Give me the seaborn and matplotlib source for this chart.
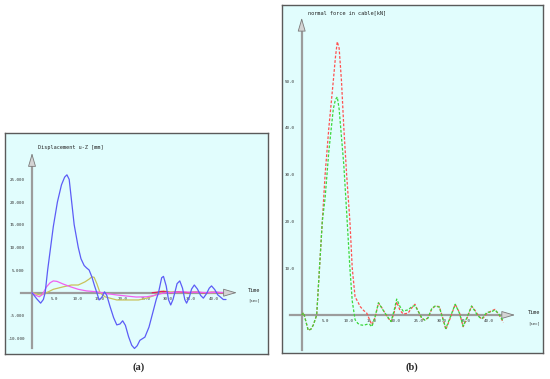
import matplotlib

matplotlib.use("Agg")
import matplotlib.pyplot as plt
import seaborn as sns

# ---- panel (a): displacement u-Z [mm] ----
a_blue_t = [0, 1.0, 1.9, 2.5, 2.9, 3.45, 4.1, 4.7, 5.6, 6.5, 7.2, 7.7, 8.2, 8.75,
            9.3, 10.2, 10.8, 11.5, 12.0, 12.6, 13.2, 13.8, 14.3, 14.8, 15.4, 16.0,
            16.5, 17.2, 18.0, 18.7, 19.4, 20.0, 20.6, 21.3, 22.0, 22.6, 23.2, 23.8,
            24.9, 25.8, 26.8, 27.4, 27.9, 28.6, 29.0, 29.6, 30.1, 30.6, 31.1, 31.5,
            32.0, 32.6, 33.2, 33.7, 34.1, 34.7, 35.2, 35.8, 36.5, 37.2, 37.8, 38.5,
            39.1, 39.6, 40.3, 41.0, 41.5, 42.2, 42.8]
a_blue_v = [0, -1.3, -2.3, -1.5, 0, 5.0, 10.0, 14.6, 20.0, 23.8, 25.5, 26.0, 25.0, 20.0,
            15.0, 10.0, 7.5, 6.0, 5.5, 5.0, 3.5, 1.5, 0, -1.6, -1.0, 0.2,
            -0.6, -3.0, -5.5, -7.1, -6.9, -6.2, -7.2, -9.7, -11.6, -12.3, -11.7, -10.5,
            -9.8, -7.6, -3.8, -1.5, 0, 3.3, 3.6, 1.5, -1.5, -2.7, -1.5, 0,
            2.0, 2.6, 1.0, -1.5, -2.3, -1.0, 0.8, 1.7, 0.8, -0.6, -1.2, -0.2,
            1.0, 1.5, 0.7, -0.5, -0.9, -1.5, -1.5]

a_pink_t = [0, 0.7, 1.6, 2.3, 3.2, 4.0, 4.7, 5.5, 6.9, 8.5, 10.2, 12.0, 14.3, 16.5,
            18.7, 21.0, 23.0, 25.3, 27.0, 28.5, 29.5, 31.0, 33.0, 35.0, 37.0, 39.0,
            41.0, 43.0]
a_pink_v = [0, -0.5, -0.9, -0.4, 1.3, 2.2, 2.6, 2.5, 1.9, 1.3, 0.75, 0.4, 0.2, -0.2,
            -0.5, -0.75, -0.95, -0.9, -0.6, -0.2, 0, 0.05, 0.2, 0.1, 0.1, 0.0,
            0.1, 0.0]

a_olive_t = [0, 1.0, 1.8, 2.5, 3.2, 4.7, 6.9, 8.7, 10.2, 11.7, 12.6, 13.2, 13.7, 14.3,
             15.0, 16.1, 17.2, 18.7, 21.6, 23.5, 25.3, 27.0, 28.2, 29.0, 30.0, 32.0,
             34.0, 36.0, 38.0, 40.0, 43.0]
a_olive_v = [0, -0.3, -0.5, -0.3, 0, 0.75, 1.3, 1.7, 1.7, 2.4, 3.0, 3.5, 3.4, 2.0,
             0, -0.9, -1.2, -1.6, -1.6, -1.6, -1.2, -0.6, 0, 0.4, 0.2, 0.1,
             0.0, 0.1, 0.0, 0.0, 0.0]

a_red_t = [26.5, 27.5, 28.5, 29.5, 30.5, 31.5, 32.5, 33.5, 34.5, 35.5, 36.5, 37.5,
           38.5, 39.5, 40.5, 41.5, 42.5, 43.0]
a_red_v = [0, 0.1, 0.3, 0.2, 0.0, 0.1, 0.2, 0.1, 0.0, 0.1, 0.1, 0.0,
           0.0, 0.1, 0.1, 0.0, 0.0, 0.0]

a_yticks = [25, 20, 15, 10, 5, -5, -10]
a_ylabels = ["25.000", "20.000", "15.000", "10.000", "5.000", "-5.000", "-10.000"]

# ---- panel (b): normal force in cable [kN] ----
b_t = [0, 0.4, 1.4, 2.0, 2.5, 3.2, 3.8, 4.4, 5.0, 5.8, 6.75, 7.2, 7.6, 8.0, 8.5, 9.0,
       9.6, 10.3, 10.8, 11.4, 12.0, 12.5, 13.2, 13.9, 14.5, 15.0, 15.7, 16.4, 17.1,
       17.8, 18.5, 19.1, 19.7, 20.3, 21.0, 21.7, 22.3, 22.8, 23.5, 24.2, 24.9, 25.6,
       26.3, 27.0, 27.8, 28.5, 29.4, 30.1, 30.8, 31.8, 32.8, 33.7, 34.5, 35.4, 36.3,
       36.9, 37.4, 38.0, 38.5, 39.1, 39.6, 40.4, 41.3, 42.2, 43.1]
b_red = [0, 0.5, -3.3, -3.0, -2.1, 0, 10, 20, 30, 40, 50, 55, 58.4, 57, 50, 40,
         30, 20, 10, 3.9, 2.8, 1.8, 1.0, 0.4, -1.0, -2.1, -0.5, 2.6, 1.6,
         0.4, -0.7, -1.4, 0.3, 2.8, 1.0, 0.2, 0.3, 0.5, 1.5, 2.3, 0.8, -0.7,
         -1.1, -0.6, 1.3, 1.9, 1.8, -0.5, -3.1, -0.5, 2.3, 0.5, -2.5, -0.5, 1.9,
         1.2, 0.4, -0.4, -0.9, -0.3, 0.4, 0.8, 1.2, 0.0, -1.6]
b_green = [0, 0.5, -3.3, -3.0, -2.1, 0, 10, 20, 25, 35, 44, 46, 46.6, 44, 38, 32,
           22, 10, 3.0, -1.0, -1.8, -2.1, -2.2, -2.0, -2.0, -2.5, -0.3, 2.6, 1.5,
           0.4, -0.6, -1.4, 0.8, 3.4, 1.8, 0.8, 1.0, 1.1, 1.8, 2.0, 0.8, -0.5,
           -1.1, -0.6, 1.4, 1.9, 1.7, -0.6, -2.9, -0.3, 2.3, 0.4, -2.4, -0.3, 1.9,
           1.0, 0.2, -0.5, -0.8, 0.0, 0.6, 0.6, 1.1, 0.1, -1.4]

b_yticks = [10, 20, 30, 40, 50]
b_ylabels = ["10.0", "20.0", "30.0", "40.0", "50.0"]

x_ticks = [5, 10, 15, 20, 25, 30, 35, 40]
x_labels = ["5.0", "10.0", "15.0", "20.0", "25.0", "30.0", "35.0", "40.0"]

BG = "#e1fdfd"
AXIS = "#9c9c9c"
MONO = "DejaVu Sans Mono"

sns.set_style("white")
plt.rcParams["font.family"] = [MONO]

W, H = 550, 379
fig = plt.figure(figsize=(W / 100, H / 100), dpi=100)


def make_panel(box, xlim, ylim):
    """box = (left, top, right, bottom) in pixels; returns the plot axes."""
    l, t, r, b = box
    rect = [l / W, 1 - b / H, (r - l) / W, (b - t) / H]
    bg = fig.add_axes(rect)
    bg.set_facecolor(BG)
    bg.set_xticks([])
    bg.set_yticks([])
    for s in bg.spines.values():
        s.set_color("#5a5a5a")
        s.set_linewidth(1.0)
    ax = fig.add_axes(rect)
    ax.patch.set_alpha(0)
    ax.set_xlim(*xlim)
    ax.set_ylim(*ylim)
    return ax


def style_axes(ax, xspan, yspan, yticks, ylabels):
    for side in ("top", "right"):
        ax.spines[side].set_visible(False)
    ax.spines["left"].set_position(("data", 0))
    ax.spines["bottom"].set_position(("data", 0))
    ax.spines["left"].set_bounds(yspan[0], yspan[1] - 2.2)
    ax.spines["bottom"].set_bounds(xspan[0], xspan[1] - 2.5)
    for side in ("left", "bottom"):
        ax.spines[side].set_color(AXIS)
        ax.spines[side].set_linewidth(1.6)
        ax.spines[side].set_zorder(1)
    ax.set_xticks(x_ticks, x_labels)
    ax.set_yticks(yticks, ylabels)
    ax.tick_params(axis="x", direction="in", length=3.5, width=0.6, color="#666666",
                   labelsize=3.0, pad=3.2, labelcolor="#333333")
    ax.tick_params(axis="y", direction="out", length=3.5, width=0.6, color="#666666",
                   labelsize=3.1, pad=1.8, labelcolor="#333333")
    arrow = dict(arrowstyle="-|>,head_length=0.85,head_width=0.25",
                 fc="#d4d4d4", ec="#7a7a7a", lw=0.6, shrinkA=0, shrinkB=0)
    ax.annotate("", xy=(0, yspan[1]), xytext=(0, yspan[1] - 2.3), arrowprops=arrow)
    ax.annotate("", xy=(xspan[1], 0), xytext=(xspan[1] - 2.6, 0), arrowprops=arrow)
    ax.set_xlabel("")
    ax.set_ylabel("")


# panel (a)
ax_a = make_panel((5, 133, 268, 354), (-5.96, 52.06), (-13.52, 35.23))
sns.lineplot(x=a_olive_t, y=a_olive_v, ax=ax_a, color="#c9c25a", lw=0.9,
             estimator=None, sort=False, zorder=3)
sns.lineplot(x=a_red_t, y=a_red_v, ax=ax_a, color="#e0205c", lw=0.9,
             estimator=None, sort=False, zorder=3)
sns.lineplot(x=a_pink_t, y=a_pink_v, ax=ax_a, color="#f060f0", lw=0.9,
             estimator=None, sort=False, zorder=3)
sns.lineplot(x=a_blue_t, y=a_blue_v, ax=ax_a, color="#5c5cf6", lw=0.9,
             estimator=None, sort=False, zorder=4)
style_axes(ax_a, (-2.5, 45.2), (-12.3, 30.8), a_yticks, a_ylabels)
ax_a.text(1.3, 32.1, "Displacement u-Z [mm]", fontsize=3.7, va="center", ha="left",
          color="#222222")
ax_a.text(47.7, 0.4, "Time", fontsize=3.7, va="center", ha="left", color="#222222")
ax_a.text(47.7, -1.7, "[sec]", fontsize=2.9, va="center", ha="left", color="#333333")

# panel (b)
ax_b = make_panel((282, 5, 543, 353), (-4.21, 51.56), (-8.12, 66.24))
sns.lineplot(x=b_t, y=b_red, ax=ax_b, color="#ff5050", lw=0.9,
             linestyle=(0, (2.2, 1.4)), estimator=None, sort=False, zorder=3)
sns.lineplot(x=b_t, y=b_green, ax=ax_b, color="#3ad83a", lw=0.9,
             linestyle=(0, (2.2, 1.4)), estimator=None, sort=False, zorder=4)
style_axes(ax_b, (-2.5, 45.6), (-7.5, 63.5), b_yticks, b_ylabels)
ax_b.text(1.35, 64.6, "normal force in cable[kN]", fontsize=3.8, va="center",
          ha="left", color="#222222")
ax_b.text(48.3, 0.5, "Time", fontsize=3.7, va="center", ha="left", color="#222222")
ax_b.text(48.3, -1.7, "[sec]", fontsize=2.9, va="center", ha="left", color="#333333")

# captions
for label, xc in (("a", 139), ("b", 412)):
    fig.text(xc / W, 1 - 367 / H, f"({label})", fontsize=7.5, fontweight="bold",
             family=["Liberation Serif", "DejaVu Serif"], ha="center", va="center")

fig.savefig("out.png", dpi=100, facecolor="white")
